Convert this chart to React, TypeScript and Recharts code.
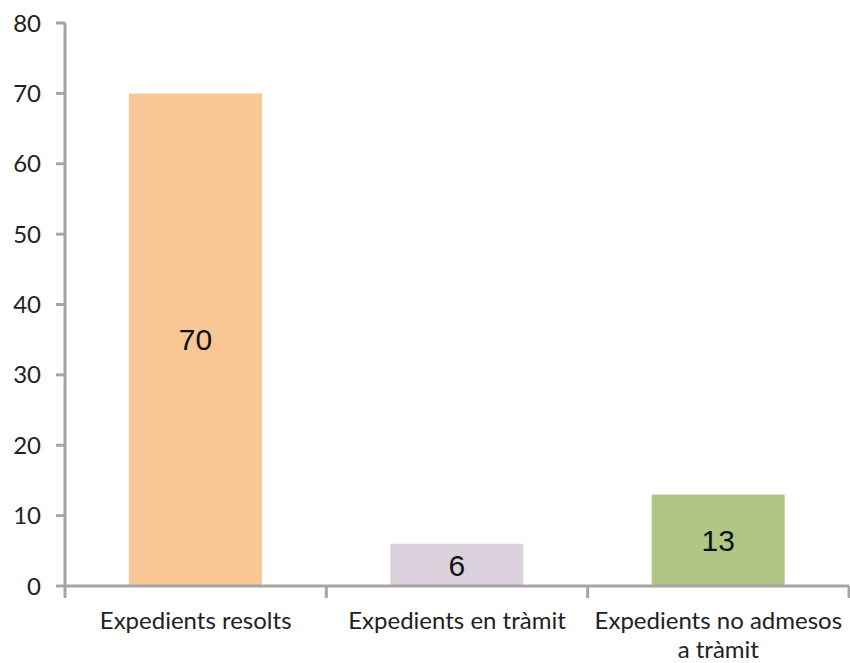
import { BarChart, Bar, XAxis, YAxis, Cell, LabelList } from 'recharts';

const categories = ['Expedients resolts', 'Expedients en tràmit', 'Expedients no admesos a tràmit'];
const values = [70, 6, 13];
const colors = ['#F9C796', '#DAD1DC', '#B0C685'];
const yTicks = [0, 10, 20, 30, 40, 50, 60, 70, 80];

const data = categories.map((name, i) => ({ name, value: values[i] }));

const AXIS = '#A8A4A4';
const FONT = 'Lato, sans-serif';

// band width of each category on the x axis (plot width / count)
const PLOT_W = 784;
const band = PLOT_W / categories.length;

// simple word wrap by character count
const wrap = (s: string, max: number) => {
  const lines: string[] = [];
  let cur = '';
  s.split(' ').forEach((w) => {
    const next = cur ? cur + ' ' + w : w;
    if (next.length > max && cur) {
      lines.push(cur);
      cur = w;
    } else {
      cur = next;
    }
  });
  if (cur) lines.push(cur);
  return lines;
};

const CategoryTick = (props: any) => {
  const { x, y, payload, index } = props;
  const left = x - band / 2;
  const right = x + band / 2;
  const lines = wrap(String(payload.value), 21);
  return (
    <g>
      <line x1={left} y1={y - 8} x2={left} y2={y + 4} stroke={AXIS} strokeWidth={3} />
      {index === categories.length - 1 && (
        <line x1={right} y1={y - 8} x2={right} y2={y + 4} stroke={AXIS} strokeWidth={3} />
      )}
      <text
        x={x}
        y={y + 35}
        textAnchor="middle"
        fontFamily={FONT}
        fontSize={24}
        fill="#222"
      >
        {lines.map((l, i) => (
          <tspan key={i} x={x} dy={i === 0 ? 0 : 29}>
            {l}
          </tspan>
        ))}
      </text>
    </g>
  );
};

export default function App() {
  return (
    <div style={{ position: 'absolute', left: 0, top: 0, background: '#fff' }}>
      <BarChart
        width={850}
        height={663}
        data={data}
        margin={{ top: 23, right: 1, bottom: 0, left: 0 }}
        barSize={133}
      >
        <XAxis
          dataKey="name"
          interval={0}
          axisLine={{ stroke: AXIS, strokeWidth: 3 }}
          tickLine={false}
          height={77}
          tick={<CategoryTick />}
        />
        <YAxis
          domain={[0, 80]}
          ticks={yTicks}
          width={65}
          axisLine={{ stroke: AXIS, strokeWidth: 3 }}
          tickLine={{ stroke: AXIS, strokeWidth: 3 }}
          tickSize={9}
          tickMargin={15}
          tick={{ fill: '#222', fontSize: 24, fontFamily: FONT }}
        />
        <Bar dataKey="value" isAnimationActive={false}>
          {data.map((d, i) => (
            <Cell key={d.name} fill={colors[i]} />
          ))}
          <LabelList
            dataKey="value"
            position="center"
            fill="#111"
            fontSize={30}
            fontFamily="'Liberation Sans', Arial, sans-serif"
          />
        </Bar>
      </BarChart>
    </div>
  );
}
